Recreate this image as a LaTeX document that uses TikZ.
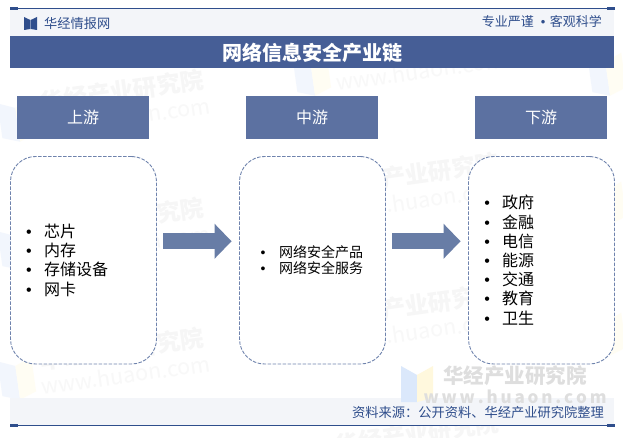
\documentclass[tikz,border=0pt]{standalone}
\usepackage{fontspec}
\setmainfont{Noto Sans CJK SC}
\newfontfamily\bulfont{Liberation Sans}
\usetikzlibrary{arrows.meta}
\definecolor{navy}{HTML}{2F4E8C}
\definecolor{bandbg}{HTML}{F3F5F9}
\definecolor{titlebar}{HTML}{465E96}
\definecolor{headbox}{HTML}{5C71A1}
\definecolor{dashc}{HTML}{6F83AD}
\definecolor{arrowc}{HTML}{687DA6}
\definecolor{wmtext}{HTML}{F6F6F6}
\definecolor{wmtexttwo}{HTML}{F8F8F8}
\definecolor{wmblue}{HTML}{F2F6FD}
\definecolor{wmyellow}{HTML}{FFFDF3}
\definecolor{wmstrongtext}{HTML}{DEDEDE}
\definecolor{wmstrongblue}{HTML}{DBE8FB}
\definecolor{wmstrongyellow}{HTML}{FFF8DD}
\newcommand{\bul}[1]{\makebox[#1][l]{{\bulfont •}}}
\tikzset{
  headbox/.style={fill=headbox,text=white,minimum width=132pt,minimum height=43pt,inner sep=0pt,font=\fontsize{16}{16}\selectfont},
  listbox/.style={draw=dashc,line width=0.9pt,dash pattern=on 3.5pt off 1.5pt,rounded corners=25pt,fill=white,minimum width=146pt,minimum height=207.5pt,inner sep=0pt},
  flow/.style={draw=arrowc,line width=16pt,-{Triangle[length=17pt,width=34pt,fill=arrowc]},shorten <=6.5pt,shorten >=7.5pt},
  itemtext/.style={anchor=west,align=left,inner sep=0pt,text=black},
  bandtext/.style={text=navy,inner sep=0pt},
  wmark/.style={inner sep=0pt,anchor=center,transform shape},
  wmlogoa/.style={fill=wmblue},
  wmlogob/.style={fill=wmyellow}
}
\begin{document}
\begin{tikzpicture}[x=1pt,y=-1pt]
\useasboundingbox (0,0) rectangle (623,438);
\fill[white] (0,0) rectangle (623,438);
% faint watermark logos
\foreach \wx/\wy in {122/91,122/219,122/349,417/45,417/174,417/305,417/434,712/45,712/174,712/305,712/434}{
  \begin{scope}[shift={(\wx,\wy)},rotate=8]
    \fill[wmlogoa] (-125,-5) -- (-108,2) -- (-108,36) -- (-125,30) -- cycle;
    \fill[wmlogob] (-108,2) -- (-91,-5) -- (-91,30) -- (-108,36) -- cycle;
  \end{scope}
}
% faint watermark names
\foreach \wx/\wy in {122/91,122/219,122/349,417/45,417/174,417/305,417/434}{
  \begin{scope}[shift={(\wx,\wy)},rotate=8]
    \node[wmark,text=wmtext,font=\fontsize{23.5}{23.5}\selectfont\bfseries] at (0,0) {华经产业研究院};
  \end{scope}
}
\foreach \wx/\wy in {122/91,122/219,122/349,417/45,417/174,417/305}{
  \begin{scope}[shift={(\wx,\wy)},rotate=8]
    \node[wmark,text=wmtexttwo,font=\fontsize{21.5}{21.5}\selectfont] at (0,26) {www.huaon.com};
  \end{scope}
}
% footer band and strong watermark
\fill[bandbg] (10,398) rectangle (614,425);
\fill[wmstrongblue] (401,366) -- (417,375) -- (417,402) -- (401,402) -- cycle;
\fill[wmstrongyellow] (417,375) -- (433,366) -- (433,398) -- (417,402) -- cycle;
\node[inner sep=0pt,text=wmstrongtext,font=\fontsize{20.5}{20.5}\selectfont\bfseries] (wmcn) at (515,376) {华经产业研究院};
\node[inner sep=0pt,text=wmstrongtext,font=\fontsize{17}{17}\selectfont\bfseries] (wmen) at (515,397) {w\,w\,w\,.\,h\,u\,a\,o\,n\,.\,c\,o\,m};
% top band
\fill[bandbg] (10,9) rectangle (614,36);
\draw[navy,line width=1pt] (10,8.5) -- (615,8.5);
\fill[navy] (10,7) rectangle (18,10);
\fill[navy] (607,7) rectangle (615,10);
\fill[navy] (24,17) -- (30.3,20) -- (30.3,29) -- (24,30) -- cycle;
\fill[navy] (37,17) -- (30.7,20) -- (30.7,29) -- (37,30) -- cycle;
\node[bandtext,anchor=west,font=\fontsize{13.2}{13.2}\selectfont] (brand) at (44,23) {华经情报网};
\node[bandtext,anchor=east,font=\fontsize{13}{13}\selectfont] (motto) at (602,22) {专业严谨\hspace{7pt}{\bulfont •}\hspace{4.5pt}客观科学};
% title
\fill[titlebar] (10,36) rectangle (614,68);
\node[text=white,inner sep=0pt,font=\fontsize{20}{20}\selectfont\bfseries] (title) at (312.5,53) {网络信息安全产业链};
% headers
\node[headbox] (uphead) at (83,117.5) {上游};
\node[headbox] (midhead) at (312,117.5) {中游};
\node[headbox] (downhead) at (541,117.5) {下游};
% list boxes
\node[listbox] (upbox) at (83.5,260.25) {};
\node[listbox] (midbox) at (312.5,260.25) {};
\node[listbox] (downbox) at (541.5,260.25) {};
% list texts
\node[itemtext,font=\fontsize{16}{19.3}\selectfont] (uplist) at (26,260) {\bul{18pt}芯片\\\bul{18pt}内存\\\bul{18pt}存储设备\\\bul{18pt}网卡};
\node[itemtext,font=\fontsize{14}{16.7}\selectfont] (midlist) at (260.5,260) {\bul{18.5pt}网络安全产品\\\bul{18.5pt}网络安全服务};
\node[itemtext,font=\fontsize{16}{19.2}\selectfont] (downlist) at (484.2,260) {\bul{17.8pt}政府\\\bul{17.8pt}金融\\\bul{17.8pt}电信\\\bul{17.8pt}能源\\\bul{17.8pt}交通\\\bul{17.8pt}教育\\\bul{17.8pt}卫生};
% arrows
\draw[flow] ([yshift=19pt]upbox.east) -- ([yshift=19pt]midbox.west);
\draw[flow] ([yshift=19pt]midbox.east) -- ([yshift=19pt]downbox.west);
% footer
\draw[navy,line width=1pt] (10,425) -- (615,425);
\fill[navy] (10,423.5) rectangle (18,426.5);
\fill[navy] (607,423.5) rectangle (615,426.5);
\node[bandtext,anchor=east,font=\fontsize{13.25}{13.25}\selectfont] (source) at (604,412) {资料来源：公开资料、华经产业研究院整理};
\end{tikzpicture}
\end{document}
